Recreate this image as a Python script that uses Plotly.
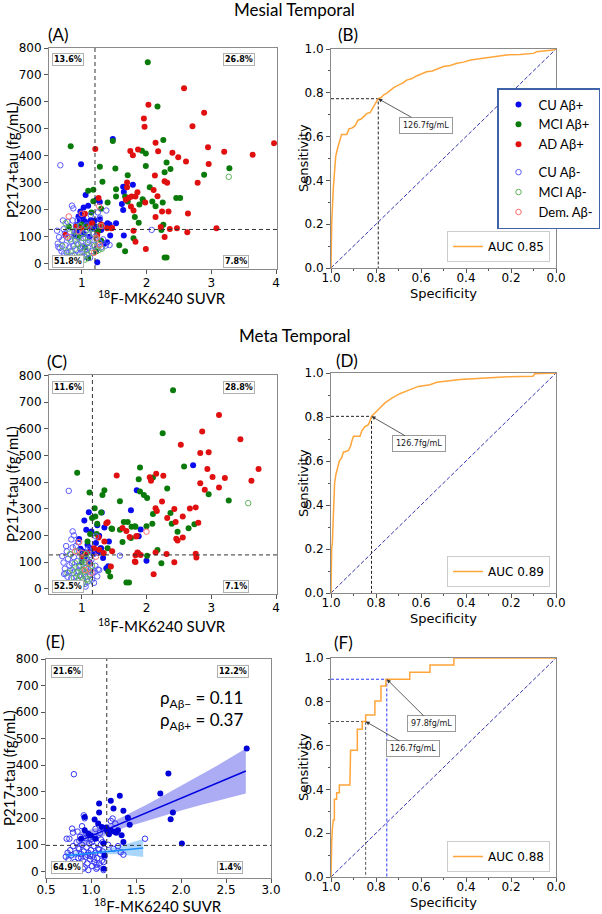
import plotly.graph_objects as go

# ---------------- DATA ----------------
# Panel A (Mesial temporal SUVR vs P217+tau)
A_cu_pos_x = [0.99, 1.48, 1.79, 1.64, 1.65, 1.62, 1.64, 1.53, 1.43, 1.28, 1.28, 1.23, 1.35, 1.65, 1.39, 1.24, 1.06, 1.03, 0.98, 0.95, 0.97, 1.05, 0.93, 1.08, 1.01, 1.14, 1.22, 1.44, 1.35, 1.10, 0.92, 1.15, 1.30, 1.02, 1.20, 1.12, 0.90, 1.03, 1.40]
A_cu_pos_y = [369, 462, 293, 285, 266, 221, 199, 150, 145, 165, 229, 237, 141, 104, 79, 5, 255, 208, 193, 175, 163, 157, 144, 144, 129, 161, 138, 104, 74, 215, 120, 130, 125, 175, 160, 100, 105, 110, 150]
A_mci_pos_x = [0.83, 2.02, 2.17, 2.26, 1.93, 1.99, 2.31, 2.37, 2.28, 1.99, 1.28, 1.52, 1.71, 1.32, 2.05, 1.53, 1.53, 1.67, 1.71, 1.94, 1.95, 2.09, 2.14, 2.25, 2.46, 2.52, 1.89, 1.40, 1.30, 1.82, 1.88, 2.26, 2.23, 1.80, 1.58, 1.67, 2.28, 2.31, 2.89, 3.28, 1.10, 1.18, 1.48, 1.18, 1.08, 0.80, 1.22, 1.10, 1.25, 0.95, 1.15, 1.05, 1.30, 1.00]
A_mci_pos_y = [435, 747, 583, 459, 419, 409, 375, 351, 339, 362, 359, 353, 328, 304, 283, 276, 249, 249, 230, 239, 232, 230, 213, 227, 243, 243, 219, 227, 204, 173, 152, 144, 125, 94, 68, 46, 23, 23, 330, 354, 270, 274, 455, 231, 138, 138, 46, 20, 120, 100, 190, 60, 85, 145]
A_ad_pos_x = [2.58, 2.03, 1.96, 1.97, 2.89, 2.71, 3.97, 3.64, 3.20, 2.95, 2.96, 2.14, 2.18, 1.75, 1.79, 1.87, 2.40, 2.49, 2.61, 1.21, 2.13, 2.28, 2.32, 2.79, 1.70, 1.70, 1.86, 2.11, 2.17, 1.77, 1.83, 1.98, 1.73, 1.80, 2.14, 2.24, 2.34, 2.64, 2.22, 2.36, 2.47, 3.08, 1.80, 2.63, 2.28, 1.83, 1.99, 1.46, 1.39, 1.24, 1.26, 1.76, 1.68, 0.91, 1.16, 1.47, 0.75, 1.00, 1.12, 1.30, 1.05]
A_ad_pos_y = [651, 589, 538, 508, 560, 510, 447, 404, 415, 432, 370, 448, 417, 418, 402, 423, 411, 395, 379, 425, 327, 306, 300, 300, 301, 283, 265, 273, 250, 249, 249, 227, 244, 197, 173, 193, 193, 186, 136, 128, 131, 131, 122, 116, 99, 81, 54, 131, 131, 106, 243, 212, 237, 138, 150, 132, 107, 130, 140, 145, 185]
A_cu_neg_x = [0.67, 2.08, 1.38, 1.37, 1.43, 0.85, 0.87, 0.62, 0.65, 0.63, 0.66, 0.69, 0.70, 0.72, 0.74, 0.75, 0.77, 0.78, 0.79, 0.81, 0.80, 0.82, 0.84, 0.83, 0.86, 0.88, 0.87, 0.89, 0.91, 0.90, 0.92, 0.94, 0.93, 0.95, 0.97, 0.96, 0.98, 1.00, 0.99, 1.01, 1.03, 1.02, 1.04, 1.06, 1.05, 1.07, 1.09, 1.08, 1.11, 1.10, 1.13, 1.12, 1.15, 1.17, 1.19, 1.21, 1.24, 1.27, 1.30, 1.33, 0.71, 0.77, 1.14, 1.25, 1.28, 0.64, 0.73, 0.94, 1.18]
A_cu_neg_y = [365, 125, 197, 67, 69, 215, 205, 122, 98, 74, 58, 45, 88, 128, 112, 68, 40, 155, 95, 60, 24, 118, 82, 46, 160, 104, 66, 30, 140, 86, 50, 14, 118, 72, 36, 100, 56, 18, 78, 44, 114, 64, 26, 96, 52, 142, 76, 34, 108, 60, 22, 86, 46, 130, 70, 100, 56, 80, 60, 90, 160, 10, 180, 190, 170, 62, 38, 160, 110]
A_mci_neg_x = [3.27, 0.70, 0.75, 0.80, 0.78, 0.82, 0.85, 0.88, 0.90, 0.93, 0.95, 0.97, 1.00, 1.02, 1.04, 1.06, 1.08, 1.10, 1.12, 1.15, 1.18, 1.20, 1.23, 1.26, 1.28, 1.31, 0.92, 1.05]
A_mci_neg_y = [322, 65, 150, 130, 45, 90, 30, 120, 55, 75, 25, 140, 60, 95, 30, 120, 50, 80, 130, 40, 110, 65, 90, 50, 140, 55, 100, 15]
A_dem_neg_x = [1.27, 1.28, 0.80, 0.78, 0.85, 1.23, 1.00, 0.95, 1.19, 1.31]
A_dem_neg_y = [212, 69, 175, 100, 5, 95, 185, 120, 40, 140]

# Panel C (Meta temporal SUVR vs P217+tau)
C_cu_pos_x = [2.72, 1.85, 1.76, 1.31, 1.24, 1.35, 1.91, 1.42, 1.88, 2.00, 1.38, 1.30, 1.11, 1.04, 1.15, 1.27, 1.07, 0.96, 1.09, 1.01, 1.14, 1.22, 1.29, 1.41, 1.33, 1.18, 1.05, 0.98, 1.12, 1.25, 1.20]
C_cu_pos_y = [463, 369, 294, 286, 238, 230, 222, 177, 197, 105, 77, 152, 287, 256, 215, 199, 221, 186, 165, 140, 152, 171, 152, 84, 115, 130, 120, 150, 100, 135, 145]
C_mci_pos_x = [2.41, 2.25, 2.58, 2.10, 1.90, 1.88, 2.32, 1.90, 1.96, 2.01, 2.96, 3.27, 1.59, 1.35, 1.32, 2.10, 2.37, 2.39, 2.48, 2.65, 2.74, 1.71, 1.65, 1.77, 1.83, 1.59, 1.46, 2.09, 2.00, 1.63, 1.40, 2.17, 2.01, 2.23, 1.44, 1.69, 1.73, 1.20, 1.21, 1.23, 1.41, 0.93, 1.12, 1.30, 1.16, 1.24, 1.13, 1.09, 1.47, 1.82, 1.76, 1.05, 1.00]
C_mci_pos_y = [745, 583, 459, 417, 455, 411, 376, 365, 352, 340, 354, 331, 328, 369, 352, 280, 284, 244, 214, 227, 242, 250, 250, 232, 232, 221, 226, 244, 234, 175, 152, 145, 124, 95, 46, 23, 23, 302, 271, 205, 65, 435, 361, 286, 265, 244, 205, 177, 224, 234, 190, 130, 100]
C_ad_pos_x = [3.12, 2.86, 2.53, 3.45, 2.83, 2.96, 3.73, 3.62, 3.21, 3.02, 2.94, 3.12, 2.83, 2.90, 1.54, 2.15, 2.05, 2.07, 2.26, 2.24, 2.14, 2.16, 2.43, 2.67, 2.76, 2.32, 2.45, 2.56, 2.80, 2.46, 2.48, 2.56, 1.63, 1.69, 1.74, 1.85, 2.14, 2.31, 2.76, 2.77, 1.86, 1.91, 1.83, 1.83, 2.43, 2.11, 1.38, 1.35, 1.45, 1.26, 1.40, 1.84, 1.87, 1.82, 1.27, 1.19, 1.09, 1.01, 1.34, 1.47]
C_ad_pos_y = [652, 590, 540, 561, 509, 512, 449, 405, 415, 419, 449, 380, 396, 371, 425, 431, 418, 405, 424, 327, 302, 292, 299, 301, 305, 265, 250, 271, 247, 187, 181, 192, 228, 216, 194, 198, 136, 130, 131, 117, 136, 126, 125, 100, 99, 54, 246, 177, 83, 192, 249, 196, 134, 102, 146, 152, 136, 121, 134, 140]
C_cu_neg_x = [0.80, 1.59, 1.22, 1.20, 1.25, 0.86, 0.88, 0.70, 0.72, 0.74, 0.75, 0.77, 0.79, 0.78, 0.81, 0.83, 0.82, 0.84, 0.86, 0.85, 0.87, 0.89, 0.88, 0.90, 0.92, 0.91, 0.93, 0.95, 0.94, 0.96, 0.98, 0.97, 0.99, 1.01, 1.00, 1.02, 1.04, 1.03, 1.05, 1.07, 1.06, 1.08, 1.10, 1.09, 1.11, 1.13, 1.12, 1.14, 1.16, 1.15, 1.17, 1.19, 1.21, 1.24, 1.27, 0.76, 0.84, 0.94, 1.00, 1.06, 1.18, 0.73, 0.90, 1.10]
C_cu_neg_y = [367, 124, 196, 64, 72, 215, 200, 122, 98, 75, 58, 140, 112, 45, 88, 128, 66, 40, 155, 95, 60, 24, 118, 82, 46, 160, 104, 66, 30, 140, 86, 50, 14, 118, 72, 36, 100, 56, 18, 78, 44, 114, 64, 26, 96, 52, 142, 76, 34, 108, 60, 22, 86, 46, 70, 160, 185, 175, 12, 8, 130, 55, 5, 150]
C_mci_neg_x = [3.57, 0.82, 0.86, 0.88, 0.90, 0.92, 0.94, 0.96, 0.98, 1.00, 1.02, 1.04, 1.06, 1.08, 1.10, 1.12, 1.14, 0.87, 0.93, 0.99, 1.05, 1.11, 1.16, 0.78, 0.95, 1.01, 1.07]
C_mci_neg_y = [321, 130, 70, 40, 95, 60, 30, 80, 50, 110, 20, 65, 90, 35, 75, 55, 120, 15, 140, 45, 100, 30, 85, 60, 10, 70, 130]
C_dem_neg_x = [2.00, 0.96, 1.00, 1.05, 0.82, 1.12, 0.90, 1.15, 1.22]
C_dem_neg_y = [214, 175, 135, 70, 2, 95, 140, 60, 120]

# Panel E (CU only)
E_pos_x = [2.73, 1.86, 1.77, 1.91, 1.885, 2.01, 1.32, 1.22, 1.09, 1.09, 1.25, 1.36, 1.41, 1.43, 0.93, 1.04, 0.93, 1.08, 1.12, 1.17, 1.18, 1.22, 1.26, 1.28, 1.30, 1.34, 1.36, 0.97, 0.89, 1.05, 1.14, 1.15, 1.14, 1.00, 1.20]
E_pos_y = [463, 369, 293, 222, 196, 105, 285, 266, 256, 222, 237, 228, 202, 176, 205, 195, 155, 180, 167, 165, 151, 155, 149, 145, 155, 136, 111, 142, 123, 123, 105, 60, 10, 135, 140]
E_neg_x = [0.81, 1.60, 1.36, 1.33, 1.24, 1.22, 1.27, 0.92, 0.93, 0.79, 0.80, 0.73, 0.76, 0.85, 0.88, 0.90, 0.95, 1.00, 1.05, 1.10, 1.13, 1.19, 1.25, 1.30, 0.72, 0.74, 0.75, 0.77, 0.78, 0.80, 0.82, 0.83, 0.84, 0.86, 0.87, 0.88, 0.89, 0.90, 0.91, 0.92, 0.93, 0.94, 0.95, 0.96, 0.97, 0.98, 0.99, 1.00, 1.01, 1.02, 1.03, 1.04, 1.05, 1.06, 1.07, 1.08, 1.09, 1.10, 1.11, 1.12, 1.13, 1.14, 1.15, 0.84, 0.87, 0.91, 0.94, 0.97, 1.01, 1.04, 1.07, 1.11, 0.86, 0.96, 1.03, 1.09, 0.89, 0.99, 1.06, 1.14]
E_neg_y = [366, 123, 63, 72, 199, 190, 180, 211, 200, 161, 146, 123, 123, 150, 130, 170, 140, 120, 160, 145, 110, 100, 85, 95, 55, 70, 45, 80, 60, 95, 35, 68, 110, 50, 85, 25, 65, 100, 40, 75, 15, 55, 90, 30, 70, 105, 45, 80, 20, 60, 95, 35, 70, 10, 50, 85, 30, 65, 100, 40, 75, 5, 55, 20, 115, 10, 125, 5, 110, 130, 15, 120, 88, 62, 48, 82, 52, 58, 25, 35]
E_fit_pos_x = [0.88, 1.0, 1.2, 1.4, 1.6, 1.8, 2.0, 2.2, 2.4, 2.6, 2.72]
E_fit_pos_y = [116, 133, 161, 190, 218, 247, 275, 304, 332, 360, 378]
E_fit_pos_lo = [84, 108, 143, 168, 188, 209, 229, 248, 266, 283, 293]
E_fit_pos_hi = [148, 158, 179, 212, 248, 285, 321, 360, 398, 437, 463]
E_fit_neg_x = [0.72, 0.9, 1.1, 1.3, 1.58]
E_fit_neg_y = [59, 65, 72, 79, 88]
E_fit_neg_lo = [46, 58, 65, 64, 54]
E_fit_neg_hi = [72, 72, 79, 94, 122]

# ROC curves (specificity, sensitivity)
B_spec = [1.0, 1.0, 0.997, 0.99, 0.985, 0.979, 0.97, 0.963, 0.953, 0.93, 0.92, 0.905, 0.893, 0.88, 0.866, 0.856, 0.84, 0.826, 0.815, 0.80, 0.79, 0.775, 0.767, 0.75, 0.738, 0.72, 0.70, 0.68, 0.664, 0.64, 0.62, 0.60, 0.575, 0.55, 0.53, 0.50, 0.47, 0.44, 0.41, 0.38, 0.34, 0.31, 0.26, 0.22, 0.16, 0.10, 0.086, 0.05, 0.012, 0.0]
B_sens = [0.0, 0.096, 0.2, 0.36, 0.43, 0.51, 0.55, 0.58, 0.61, 0.61, 0.635, 0.64, 0.65, 0.675, 0.68, 0.69, 0.706, 0.71, 0.73, 0.756, 0.773, 0.78, 0.79, 0.80, 0.81, 0.825, 0.835, 0.845, 0.858, 0.865, 0.877, 0.885, 0.896, 0.90, 0.907, 0.92, 0.925, 0.935, 0.94, 0.95, 0.955, 0.96, 0.965, 0.973, 0.975, 0.98, 0.988, 0.99, 0.995, 1.0]
D_spec = [1.0, 1.0, 0.997, 0.994, 0.99, 0.984, 0.978, 0.963, 0.953, 0.945, 0.923, 0.913, 0.908, 0.90, 0.871, 0.864, 0.85, 0.834, 0.822, 0.82, 0.805, 0.783, 0.76, 0.73, 0.694, 0.657, 0.612, 0.56, 0.53, 0.427, 0.324, 0.235, 0.102, 0.095, 0.0]
D_sens = [0.0, 0.09, 0.205, 0.227, 0.364, 0.5, 0.54, 0.6, 0.614, 0.64, 0.647, 0.667, 0.689, 0.712, 0.712, 0.735, 0.755, 0.765, 0.795, 0.803, 0.818, 0.841, 0.864, 0.886, 0.906, 0.921, 0.939, 0.947, 0.958, 0.97, 0.977, 0.982, 0.985, 0.997, 1.0]
F_spec = [1.0, 1.0, 0.997, 0.994, 0.99, 0.985, 0.985, 0.975, 0.975, 0.963, 0.963, 0.916, 0.916, 0.913, 0.913, 0.883, 0.883, 0.861, 0.861, 0.846, 0.846, 0.805, 0.805, 0.778, 0.778, 0.756, 0.756, 0.65, 0.65, 0.56, 0.56, 0.454, 0.454, 0.0]
F_sens = [0.0, 0.062, 0.16, 0.22, 0.26, 0.26, 0.355, 0.355, 0.385, 0.385, 0.42, 0.42, 0.455, 0.55, 0.579, 0.579, 0.675, 0.675, 0.71, 0.71, 0.74, 0.74, 0.804, 0.804, 0.872, 0.872, 0.903, 0.903, 0.935, 0.935, 0.968, 0.968, 1.0, 1.0]

AUC_labels = ["AUC 0.85", "AUC 0.89", "AUC 0.88"]
thr_B = (0.79, 0.773)
thr_D = (0.82, 0.803)
thr_F_black = (0.846, 0.71)
thr_F_blue = (0.752, 0.903)
label_B = (0.58, 0.652)
label_D = (0.61, 0.679)
label_F_black = (0.635, 0.585)
label_F_blue = (0.553, 0.70)

p217_cut = 126.7
p217_cut_E = 97.8
suvr_cut_A = 1.205
suvr_cut_C = 1.165
suvr_cut_E = 1.175
quad_A = ["13.6%", "26.8%", "51.8%", "7.8%"]
quad_C = ["11.6%", "28.8%", "52.5%", "7.1%"]
quad_E = ["21.6%", "12.2%", "64.9%", "1.4%"]

# ---------------- STYLE / LAYOUT ----------------
W, H = 602, 914
def dx(a, b): return [a / W, b / W]
def dy(top, bot): return [1 - bot / H, 1 - top / H]

C_BLUE = "#0a0af0"
C_GREEN = "#0a7a0a"
C_RED = "#e01010"
O_BLUE = "#5b5bff"
O_GREEN = "#5fb35f"
O_RED = "#ff6a6a"
ORANGE = "#ffa53a"
TICKF = dict(family="DejaVu Sans", size=12, color="black")
LABF = dict(family="Lato", size=15, color="black")
ROCLABF = dict(family="DejaVu Sans", size=13, color="black")

fig = go.Figure()

def scatter_panel(xa, ya, groups, show):
    for name, xs, ys, col, openm, grp in groups:
        if openm:
            mk = dict(symbol="circle-open", size=5.5, color=col, line=dict(width=1, color=col))
        else:
            mk = dict(symbol="circle", size=6, color=col, line=dict(width=0))
        fig.add_trace(go.Scatter(x=xs, y=ys, mode="markers", name=name, marker=mk,
                                 xaxis=xa, yaxis=ya, showlegend=show, legendgroup=grp,
                                 legend="legend"))

grpA = [("CU Aβ+", A_cu_pos_x, A_cu_pos_y, C_BLUE, False, "pos"),
        ("MCI Aβ+", A_mci_pos_x, A_mci_pos_y, C_GREEN, False, "pos"),
        ("AD Aβ+", A_ad_pos_x, A_ad_pos_y, C_RED, False, "pos"),
        ("CU Aβ-", A_cu_neg_x, A_cu_neg_y, O_BLUE, True, "neg"),
        ("MCI Aβ-", A_mci_neg_x, A_mci_neg_y, O_GREEN, True, "neg"),
        ("Dem. Aβ-", A_dem_neg_x, A_dem_neg_y, O_RED, True, "neg")]
grpC = [("CU Aβ+", C_cu_pos_x, C_cu_pos_y, C_BLUE, False, "pos"),
        ("MCI Aβ+", C_mci_pos_x, C_mci_pos_y, C_GREEN, False, "pos"),
        ("AD Aβ+", C_ad_pos_x, C_ad_pos_y, C_RED, False, "pos"),
        ("CU Aβ-", C_cu_neg_x, C_cu_neg_y, O_BLUE, True, "neg"),
        ("MCI Aβ-", C_mci_neg_x, C_mci_neg_y, O_GREEN, True, "neg"),
        ("Dem. Aβ-", C_dem_neg_x, C_dem_neg_y, O_RED, True, "neg")]
scatter_panel("x", "y", grpA, True)
scatter_panel("x3", "y3", grpC, False)

# Panel E: CI bands + lines + points
fig.add_trace(go.Scatter(x=E_fit_pos_x, y=E_fit_pos_lo, mode="lines", line=dict(width=0),
                         xaxis="x5", yaxis="y5", showlegend=False, hoverinfo="skip"))
fig.add_trace(go.Scatter(x=E_fit_pos_x, y=E_fit_pos_hi, mode="lines", line=dict(width=0),
                         fill="tonexty", fillcolor="rgba(90,90,235,0.5)",
                         xaxis="x5", yaxis="y5", showlegend=False, hoverinfo="skip"))
fig.add_trace(go.Scatter(x=E_fit_neg_x, y=E_fit_neg_lo, mode="lines", line=dict(width=0),
                         xaxis="x5", yaxis="y5", showlegend=False, hoverinfo="skip"))
fig.add_trace(go.Scatter(x=E_fit_neg_x, y=E_fit_neg_hi, mode="lines", line=dict(width=0),
                         fill="tonexty", fillcolor="rgba(100,180,250,0.55)",
                         xaxis="x5", yaxis="y5", showlegend=False, hoverinfo="skip"))
fig.add_trace(go.Scatter(x=E_neg_x, y=E_neg_y, mode="markers",
                         marker=dict(symbol="circle-open", size=5.5, color="#3535f5", line=dict(width=1, color="#3535f5")),
                         xaxis="x5", yaxis="y5", showlegend=False))
fig.add_trace(go.Scatter(x=E_pos_x, y=E_pos_y, mode="markers",
                         marker=dict(symbol="circle", size=6, color="#0000d8"),
                         xaxis="x5", yaxis="y5", showlegend=False))
fig.add_trace(go.Scatter(x=E_fit_pos_x, y=E_fit_pos_y, mode="lines", line=dict(color="#0000e0", width=1.5),
                         xaxis="x5", yaxis="y5", showlegend=False))
fig.add_trace(go.Scatter(x=E_fit_neg_x, y=E_fit_neg_y, mode="lines", line=dict(color="#1e8fff", width=1.5),
                         xaxis="x5", yaxis="y5", showlegend=False))

# ROC panels
def roc_panel(xa, ya, spec, sens, label, leg, thresholds):
    fig.add_trace(go.Scatter(x=[1, 0], y=[0, 1], mode="lines",
                             line=dict(color="#3333b0", width=1, dash="4px,2px"),
                             xaxis=xa, yaxis=ya, showlegend=False))
    for (ts, tsen), col in thresholds:
        fig.add_trace(go.Scatter(x=[1, ts, ts], y=[tsen, tsen, 0], mode="lines",
                                 line=dict(color=col, width=1, dash="3px,2px"),
                                 xaxis=xa, yaxis=ya, showlegend=False))
    fig.add_trace(go.Scatter(x=spec, y=sens, mode="lines", name=label,
                             line=dict(color=ORANGE, width=1.5),
                             xaxis=xa, yaxis=ya, showlegend=True, legend=leg))

roc_panel("x2", "y2", B_spec, B_sens, AUC_labels[0], "legend2", [(thr_B, "#222222")])
roc_panel("x4", "y4", D_spec, D_sens, AUC_labels[1], "legend3", [(thr_D, "#222222")])
roc_panel("x6", "y6", F_spec, F_sens, AUC_labels[2], "legend4",
          [(thr_F_black, "#555555"), (thr_F_blue, "#2b3bff")])

axis_common = dict(showline=True, linecolor="#8a8a8a", linewidth=1, mirror=True,
                   ticks="outside", ticklen=4, tickcolor="#555555", showgrid=False,
                   zeroline=False, tickfont=TICKF, automargin=False)

def sc_x(dom, rng, anchor, dtick, fmt=None, standoff=-1):
    d = dict(axis_common, domain=dom, range=rng, anchor=anchor, dtick=dtick,
             ticklabelstandoff=standoff)
    if fmt:
        d["tickformat"] = fmt
    return d

def sc_y(dom, rng, anchor):
    return dict(axis_common, domain=dom, range=rng, anchor=anchor, dtick=100)

def roc_x(dom, anchor):
    return dict(axis_common, domain=dom, range=[1, 0], anchor=anchor, dtick=0.2, tickformat=".1f",
                ticklabelstandoff=-5,
                minor=dict(ticks="outside", ticklen=2, dtick=0.1, tickcolor="#555555"))

def roc_y(dom, anchor):
    return dict(axis_common, domain=dom, range=[0, 1], anchor=anchor, dtick=0.2, tickformat=".1f",
                minor=dict(ticks="outside", ticklen=2, dtick=0.1, tickcolor="#555555"))

layout = dict(
    width=W, height=H, margin=dict(l=0, r=0, t=0, b=0), autosize=False,
    paper_bgcolor="white", plot_bgcolor="white",
    xaxis=sc_x(dx(49, 277), [0.495, 4.015], "y", 1),
    yaxis=sc_y(dy(48, 269), [-20, 800], "x"),
    xaxis2=roc_x(dx(331, 556), "y2"),
    yaxis2=roc_y(dy(49, 268), "x2"),
    xaxis3=sc_x(dx(49, 277), [0.495, 4.015], "y3", 1),
    yaxis3=sc_y(dy(375, 594), [-20, 802], "x3"),
    xaxis4=roc_x(dx(331, 556), "y4"),
    yaxis4=roc_y(dy(373, 593), "x4"),
    xaxis5=sc_x(dx(46, 271), [0.5, 3.0], "y5", 0.5, ".1f", -3),
    yaxis5=sc_y(dy(659, 878), [-25, 800], "x5"),
    xaxis6=roc_x(dx(331, 556), "y6"),
    yaxis6=roc_y(dy(658, 877), "x6"),
    legend=dict(x=600 / W, xanchor="right", y=1 - 88 / H, yanchor="top",
                bordercolor="#3f63a8", borderwidth=1.5, bgcolor="white",
                font=dict(family="Lato", size=13, color="black"),
                tracegroupgap=8, itemwidth=30, traceorder="grouped"),
    legend2=dict(x=550 / W, xanchor="right", y=1 - 262 / H, yanchor="bottom",
                 bordercolor="#cccccc", borderwidth=1, bgcolor="white",
                 font=dict(family="DejaVu Sans", size=12, color="black")),
    legend3=dict(x=550 / W, xanchor="right", y=1 - 587 / H, yanchor="bottom",
                 bordercolor="#cccccc", borderwidth=1, bgcolor="white",
                 font=dict(family="DejaVu Sans", size=12, color="black")),
    legend4=dict(x=550 / W, xanchor="right", y=1 - 872 / H, yanchor="bottom",
                 bordercolor="#cccccc", borderwidth=1, bgcolor="white",
                 font=dict(family="DejaVu Sans", size=12, color="black")),
)
fig.update_layout(**layout)

# Quadrant cut lines
shapes = []
for xa, ya, xc, yc in [("x", "y", suvr_cut_A, p217_cut), ("x3", "y3", suvr_cut_C, p217_cut),
                       ("x5", "y5", suvr_cut_E, p217_cut_E)]:
    shapes.append(dict(type="line", xref=xa, yref=ya + " domain", x0=xc, x1=xc, y0=0, y1=1,
                       line=dict(color="#333333", width=1, dash="4px,3px")))
    shapes.append(dict(type="line", xref=xa + " domain", yref=ya, x0=0, x1=1, y0=yc, y1=yc,
                       line=dict(color="#333333", width=1, dash="4px,3px")))
fig.update_layout(shapes=shapes)

ann = []
def ptxt(text, px, py, font, xanchor="center", angle=0):
    ann.append(dict(text=text, x=px / W, y=1 - py / H, xref="paper", yref="paper",
                    showarrow=False, font=font, xanchor=xanchor, yanchor="middle", textangle=angle))

# Titles and panel letters
TITF = dict(family="Lato", size=17, color="black")
ptxt("Mesial Temporal", 294, 10, TITF)
ptxt("Meta Temporal", 294, 335, TITF)
for t, px, py in [("(A)", 46, 35), ("(B)", 336, 35), ("(C)", 45, 361), ("(D)", 334, 360),
                  ("(E)", 44, 641), ("(F)", 332, 642)]:
    ptxt(t, px, py, TITF, xanchor="left")

# Axis titles
XT = "<sup>18</sup>F-MK6240 SUVR"
ptxt(XT, 162, 297, LABF)
ptxt(XT, 162, 625, LABF)
ptxt(XT, 158, 905, LABF)
YT = "P217+tau (fg/mL)"
ptxt(YT, 12, 160, LABF, angle=-90)
ptxt(YT, 12, 484, LABF, angle=-90)
ptxt(YT, 9, 768, LABF, angle=-90)
for py in (293, 618, 902):
    ptxt("Specificity", 443, py, ROCLABF)
for py in (158, 483, 767):
    ptxt("Sensitivity", 303, py, ROCLABF, angle=-90)

# Quadrant percentage boxes
QF = dict(family="DejaVu Sans", size=8, color="black")
def quad(xa, ya, labels, xl, xr, yt, yb):
    pos = [(xl, yt), (xr, yt), (xl, yb), (xr, yb)]
    for lab, (qx, qy) in zip(labels, pos):
        ann.append(dict(text="<b>" + lab + "</b>", x=qx, y=qy, xref=xa + " domain", yref=ya + " domain",
                        showarrow=False, font=QF, xanchor="left", yanchor="middle",
                        bordercolor="#b0b0b0", borderwidth=1, borderpad=1, bgcolor="white"))
quad("x", "y", quad_A, 0.015, 0.765, 0.95, 0.032)
quad("x3", "y3", quad_C, 0.015, 0.765, 0.941, 0.036)
quad("x5", "y5", quad_E, 0.022, 0.76, 0.945, 0.05)

# Correlation text
ann.append(dict(text="ρ<sub>Aβ−</sub> = 0.11<br>ρ<sub>Aβ+</sub> = 0.37", x=0.69, y=0.765,
                xref="x5 domain", yref="y5 domain", showarrow=False, align="left",
                font=dict(family="Lato", size=17, color="black"), xanchor="center", yanchor="middle"))

# ROC threshold labels with arrows
LBF = dict(family="DejaVu Sans", size=8, color="#222222")
for xa, ya, (tx, ty), (lx, ly), txt in [
        ("x2", "y2", thr_B, label_B, "126.7fg/mL"),
        ("x4", "y4", thr_D, label_D, "126.7fg/mL"),
        ("x6", "y6", thr_F_black, label_F_black, "126.7fg/mL"),
        ("x6", "y6", thr_F_blue, label_F_blue, "97.8fg/mL")]:
    ann.append(dict(text=txt, x=tx, y=ty, xref=xa, yref=ya, ax=lx, ay=ly, axref=xa, ayref=ya,
                    showarrow=True, arrowhead=2, arrowsize=1, arrowwidth=0.8, arrowcolor="#333333",
                    font=LBF, bordercolor="#999999", borderwidth=1, borderpad=3, bgcolor="white"))

fig.update_layout(annotations=ann)
fig.write_html("out.html", config={"displayModeBar": False},
               post_script="document.body.style.margin='0px';document.body.style.overflow='hidden';")
